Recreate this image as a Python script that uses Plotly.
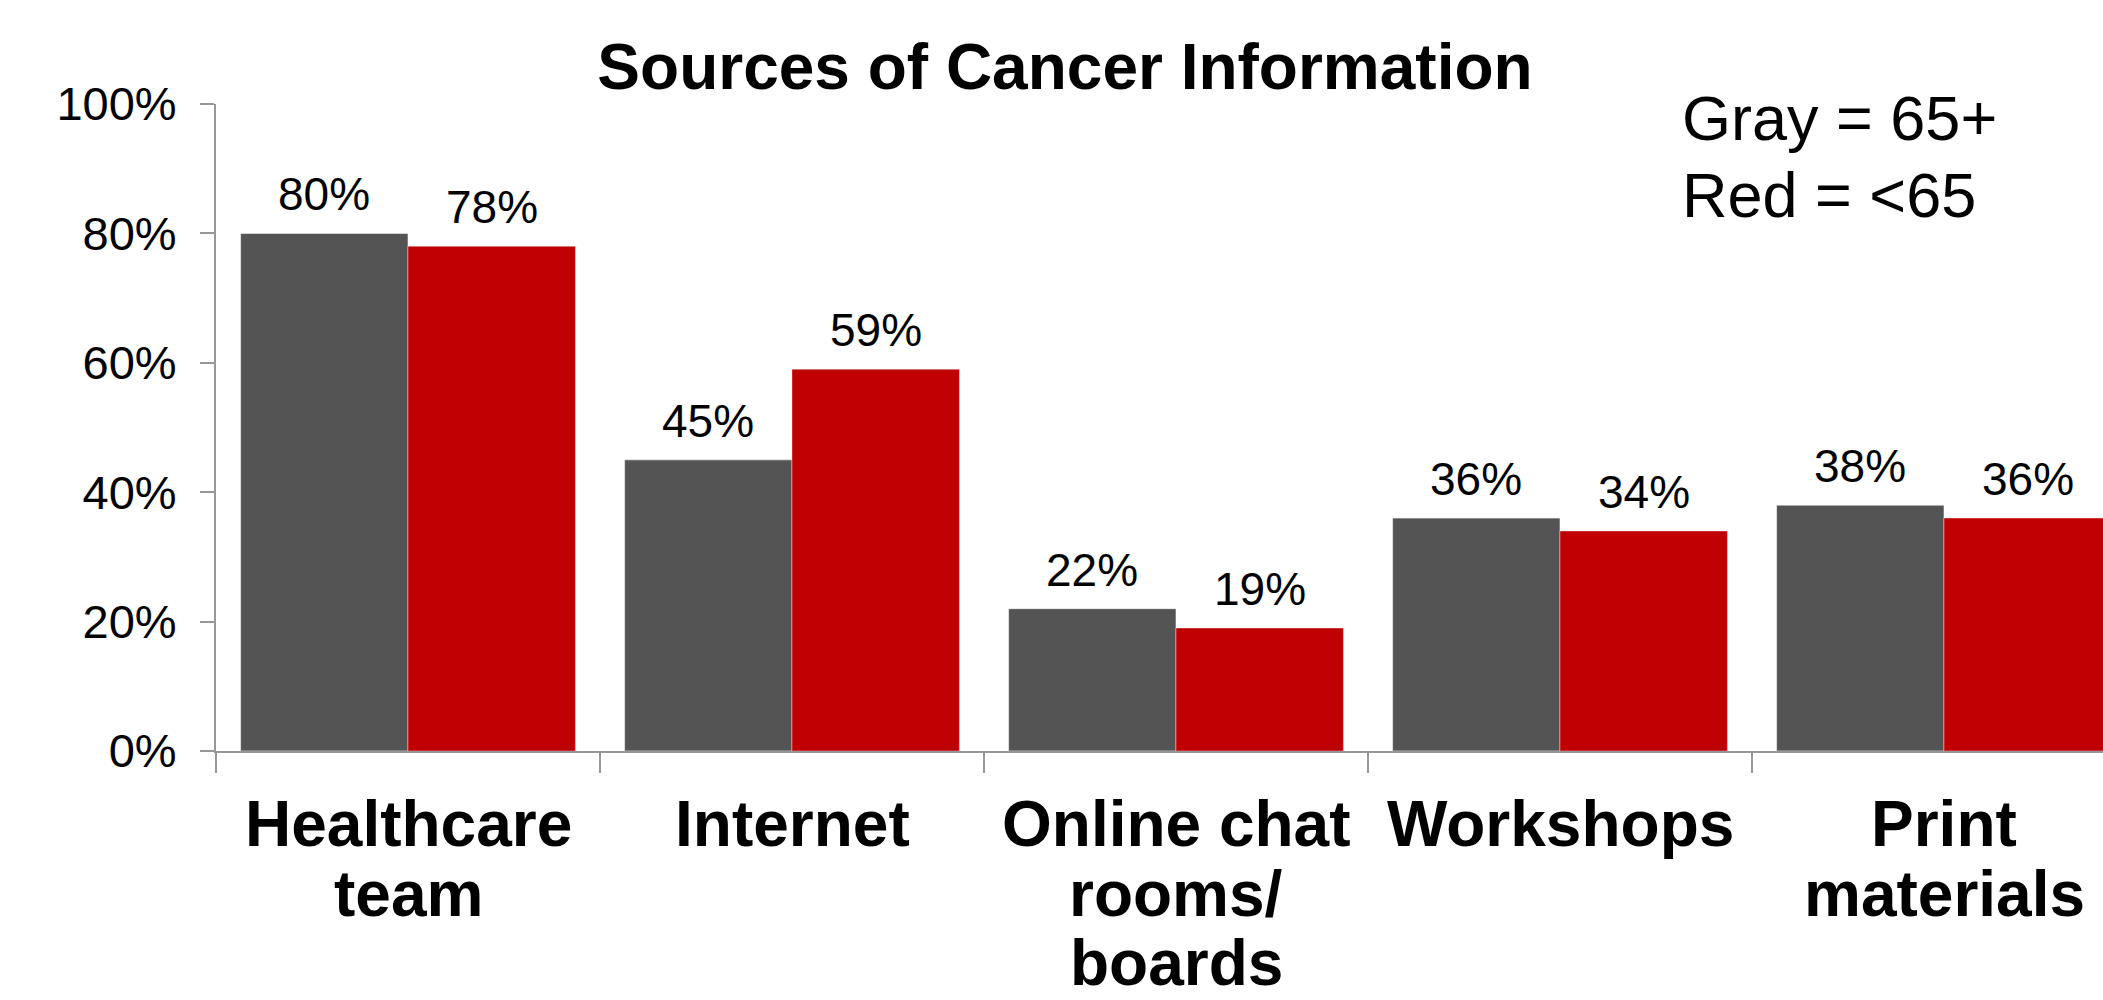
import plotly.graph_objects as go

# --- data ---
categories = ["Healthcare team", "Internet", "Online chat rooms/ boards", "Workshops", "Print materials"]
category_lines = [["Healthcare", "team"], ["Internet"], ["Online chat", "rooms/", "boards"],
                  ["Workshops"], ["Print", "materials"]]
age_65_plus = [80, 45, 22, 36, 38]
age_under_65 = [78, 59, 19, 34, 36]
y_ticks = [0, 20, 40, 60, 80, 100]
y_tick_labels = ["0%", "20%", "40%", "60%", "80%", "100%"]

# --- layout geometry (pixels) ---
W, H = 2103, 1000
M_L, M_R, M_T, M_B = 216, 0, 104, 249
PLOT_W = W - M_L - M_R
PLOT_H = H - M_T - M_B
CAT_PX = 384.0                      # width of one category slot
X_END = -0.5 + PLOT_W / CAT_PX      # right edge of visible range
BARGAP = 0.128
HALF_BAR_PX = CAT_PX * (1 - BARGAP) / 4

FONT = "Liberation Sans, Arial, sans-serif"
GRAY = "#545454"
RED = "#C00000"
AXIS = "#979797"


def paper_x(px):
    return (px - M_L) / PLOT_W


def paper_y(py):
    return (H - M_B - py) / PLOT_H


fig = go.Figure()
fig.add_trace(go.Bar(x=categories, y=age_65_plus, name="65+", marker_color=GRAY,
                     marker_line=dict(color="rgba(255,255,255,0.55)", width=1)))
fig.add_trace(go.Bar(x=categories, y=age_under_65, name="<65", marker_color=RED,
                     marker_line=dict(color="rgba(255,255,255,0.35)", width=1)))

annotations = []
# value labels above each bar
for cat, g, r in zip(categories, age_65_plus, age_under_65):
    for val, shift in ((g, -HALF_BAR_PX), (r, HALF_BAR_PX)):
        annotations.append(dict(x=cat, y=val, xref="x", yref="y", text=f"{val}%",
                                showarrow=False, xanchor="center", yanchor="middle",
                                xshift=shift, yshift=39,
                                font=dict(family=FONT, size=46, color="black")))

# category labels under the axis, one line at a time
LINE_BASELINES = [846, 916, 985]
for cat, lines in zip(categories, category_lines):
    for i, line in enumerate(lines):
        annotations.append(dict(x=cat, y=paper_y(LINE_BASELINES[i] - 22.2), xref="x", yref="paper",
                                text=f"<b>{line}</b>", showarrow=False,
                                xanchor="center", yanchor="middle",
                                font=dict(family=FONT, size=64, color="black")))

# colour key
for text, baseline in (("Gray = 65+", 140), ("Red = <65", 217)):
    annotations.append(dict(x=paper_x(1680), y=paper_y(baseline - 21.8), xref="paper", yref="paper",
                            text=text, showarrow=False, xanchor="left", yanchor="middle",
                            font=dict(family=FONT, size=63, color="black")))

fig.update_layout(
    width=W, height=H,
    margin=dict(l=M_L, r=M_R, t=M_T, b=M_B, pad=0),
    paper_bgcolor="white", plot_bgcolor="white",
    barmode="group", bargap=BARGAP, bargroupgap=0,
    showlegend=False,
    title=dict(text="<b>Sources of Cancer Information</b>",
               x=1065 / W, xref="container", xanchor="center",
               y=1 - (89 - 22.2) / H, yref="container", yanchor="middle",
               font=dict(family=FONT, size=64, color="black")),
    annotations=annotations,
    font=dict(family=FONT, color="black"),
)

fig.update_xaxes(
    type="category", range=[-0.5, X_END],
    showline=True, linecolor=AXIS, linewidth=2,
    ticks="outside", tickson="boundaries", ticklen=20, tickwidth=2, tickcolor=AXIS,
    showticklabels=False, showgrid=False, zeroline=False, fixedrange=True,
)
fig.update_yaxes(
    range=[0, 100], tickvals=y_ticks, ticktext=y_tick_labels,
    showline=True, linecolor=AXIS, linewidth=2,
    ticks="outside", ticklen=14, tickwidth=2, tickcolor=AXIS,
    ticklabelstandoff=14,
    tickfont=dict(family=FONT, size=47, color="black"),
    showgrid=False, zeroline=False, fixedrange=True,
)

fig.write_html("out.html")
